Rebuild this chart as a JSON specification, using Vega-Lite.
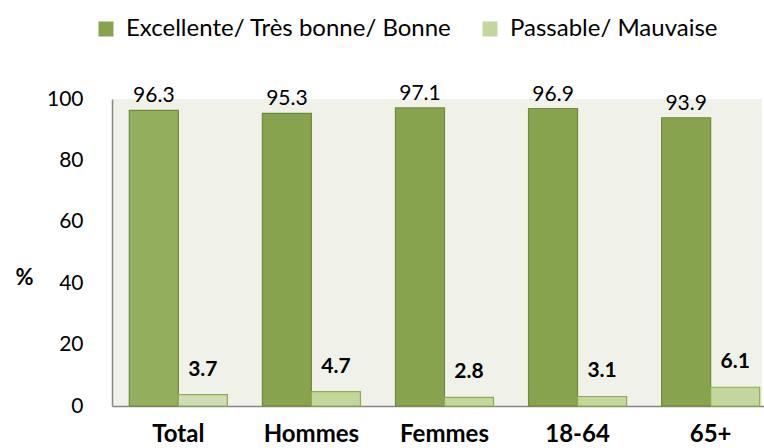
{
  "$schema": "https://vega.github.io/schema/vega-lite/v6.json",
  "autosize": {"type": "none"},
  "width": 650,
  "height": 307,
  "padding": {"left": 112, "top": 99, "right": 2, "bottom": 42},
  "background": "white",
  "config": {
    "font": "Lato",
    "view": {"fill": "#f0f2ea", "stroke": null}
  },
  "data": {
    "values": [
      {"cat": "Total", "series": "Excellente/ Très bonne/ Bonne", "value": 96.3},
      {"cat": "Total", "series": "Passable/ Mauvaise", "value": 3.7},
      {"cat": "Hommes", "series": "Excellente/ Très bonne/ Bonne", "value": 95.3},
      {"cat": "Hommes", "series": "Passable/ Mauvaise", "value": 4.7},
      {"cat": "Femmes", "series": "Excellente/ Très bonne/ Bonne", "value": 97.1},
      {"cat": "Femmes", "series": "Passable/ Mauvaise", "value": 2.8},
      {"cat": "18-64", "series": "Excellente/ Très bonne/ Bonne", "value": 96.9},
      {"cat": "18-64", "series": "Passable/ Mauvaise", "value": 3.1},
      {"cat": "65+", "series": "Excellente/ Très bonne/ Bonne", "value": 93.9},
      {"cat": "65+", "series": "Passable/ Mauvaise", "value": 6.1}
    ]
  },
  "encoding": {
    "x": {
      "field": "cat",
      "type": "nominal",
      "sort": ["Total", "Hommes", "Femmes", "18-64", "65+"],
      "scale": {"range": [0, 665], "paddingInner": 0.263, "paddingOuter": 0.13},
      "axis": {
        "title": null,
        "labelAngle": 0,
        "labelFontSize": 24,
        "labelFontWeight": "bold",
        "labelColor": "#000000",
        "labelPadding": 16,
        "labelBaseline": "top",
        "ticks": false,
        "domainColor": "#868686",
        "domainWidth": 1.5
      }
    },
    "xOffset": {
      "field": "series",
      "type": "nominal",
      "sort": ["Excellente/ Très bonne/ Bonne", "Passable/ Mauvaise"],
      "scale": {"paddingInner": 0, "paddingOuter": 0}
    },
    "y": {
      "field": "value",
      "type": "quantitative",
      "scale": {"domain": [0, 100], "nice": false},
      "axis": {
        "values": [0, 20, 40, 60, 80, 100],
        "grid": false,
        "ticks": false,
        "labelFontSize": 21,
        "labelColor": "#000000",
        "labelPadding": 29,
        "labelFlush": false,
        "domainColor": "#868686",
        "domainWidth": 1.5,
        "title": "%",
        "titleAngle": 0,
        "titleFontSize": 22,
        "titleFontWeight": "bold",
        "titleColor": "#000000",
        "titleX": -88,
        "titleY": 178,
        "titleAlign": "center",
        "titleBaseline": "middle"
      }
    }
  },
  "layer": [
    {
      "mark": {"type": "bar", "strokeWidth": 1.2},
      "encoding": {
        "fill": {
          "condition": [
            {"test": "datum.cat === 'Total' && datum.series === 'Passable/ Mauvaise'", "value": "#cfdeb0"},
            {"test": "datum.cat === 'Total'", "value": "#93ae5c"}
          ],
          "field": "series",
          "type": "nominal",
          "sort": ["Excellente/ Très bonne/ Bonne", "Passable/ Mauvaise"],
          "scale": {"range": ["#88a34d", "#c3d69b"]},
          "legend": {
            "orient": "none",
            "direction": "horizontal",
            "legendX": -18,
            "legendY": -82,
            "title": null,
            "symbolType": "square",
            "symbolSize": 225,
            "symbolStrokeWidth": 1.2,
            "symbolOpacity": 1,
            "labelFontSize": 24,
            "labelLimit": 0,
            "labelColor": "#000000",
            "labelOffset": 8,
            "columnPadding": 26
          }
        },
        "stroke": {
          "field": "series",
          "type": "nominal",
          "sort": ["Excellente/ Très bonne/ Bonne", "Passable/ Mauvaise"],
          "scale": {"range": ["#6f8a3a", "#8eab52"]},
          "legend": null
        }
      }
    },
    {
      "transform": [{"filter": "datum.series === 'Excellente/ Très bonne/ Bonne'"}],
      "mark": {"type": "text", "baseline": "middle", "dy": -14, "fontSize": 21, "color": "#000000"},
      "encoding": {
        "text": {"field": "value", "type": "quantitative", "format": ".1f"}
      }
    },
    {
      "transform": [{"filter": "datum.series === 'Passable/ Mauvaise'"}],
      "mark": {"type": "text", "baseline": "middle", "dy": -25, "fontSize": 21, "fontWeight": "bold", "color": "#000000"},
      "encoding": {
        "text": {"field": "value", "type": "quantitative", "format": ".1f"}
      }
    }
  ]
}
